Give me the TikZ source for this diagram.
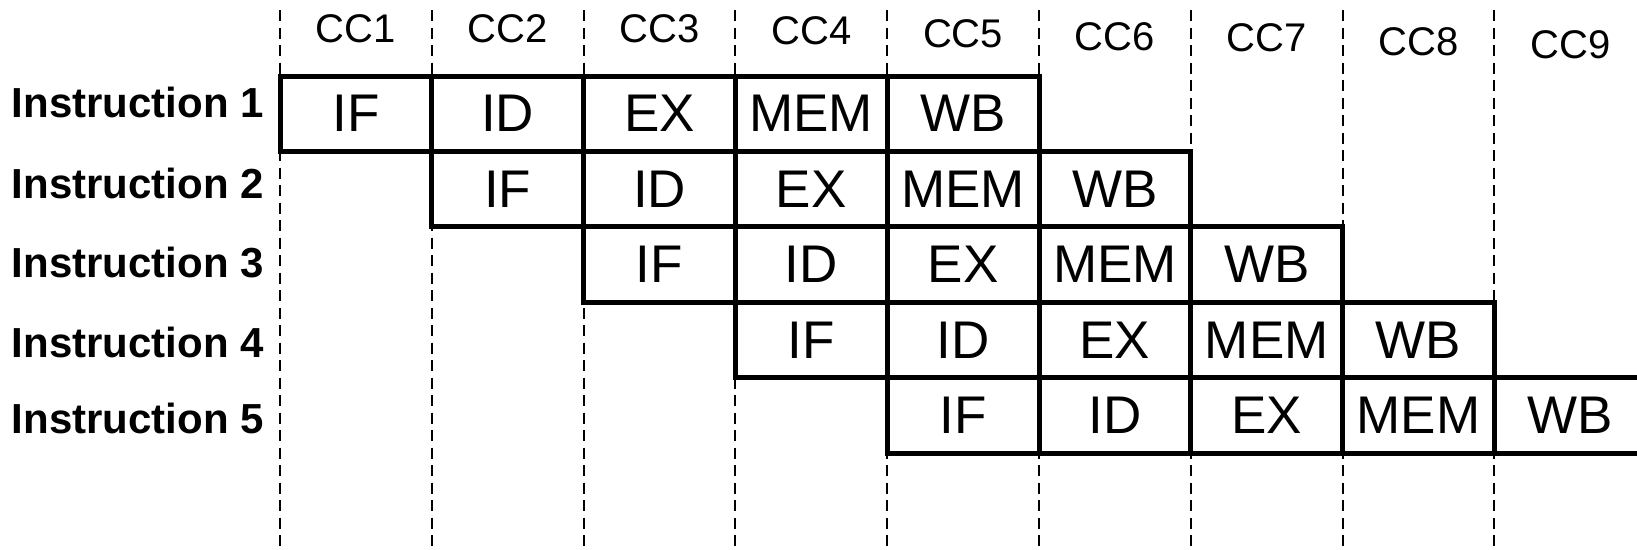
\documentclass[tikz,border=0pt]{standalone}
\usepackage{fontspec}
\setmainfont{Liberation Sans}
\begin{document}
\begin{tikzpicture}[x=1pt,y=-1pt,
  gridline/.style={line width=2pt, dash pattern=on 11pt off 6.5pt},
  stagebox/.style={draw, line width=5pt, minimum width=151.8pt, minimum height=75.4pt,
    inner sep=0pt, font=\fontsize{53}{53}\selectfont},
  cclabel/.style={font=\fontsize{40}{40}\selectfont, inner sep=0pt},
  instlabel/.style={font=\fontsize{42}{42}\selectfont\bfseries, anchor=east, inner sep=0pt}]
\useasboundingbox (0,0) rectangle (1637,549);
% dashed clock-cycle lines
\foreach \i in {0,...,8}{
  \coordinate (gt\i) at ({280+151.8*\i},10);
  \coordinate (gb\i) at ({280+151.8*\i},549);
  \draw[gridline] (gt\i) -- (gb\i);
}
% CC labels
\foreach \i/\yy in {1/29,2/29,3/29,4/31,5/34,6/37,7/38,8/42,9/45}{
  \node[cclabel] (cc\i) at ({280+151.8*(\i-0.5)},\yy) {CC\i};
}
% pipeline stages
\foreach \r in {1,...,5}{
  \foreach \s [count=\k from 0] in {IF,ID,EX,MEM,WB}{
    \node[stagebox] (st\r-\k) at ({280+151.8*(\r-1+\k+0.5)},{76+75.4*(\r-0.5)}) {\s};
  }
}
% instruction labels
\foreach \r/\yy in {1/102,2/183,3/263,4/342,5/418}{
  \node[instlabel] (in\r) at (264,\yy) {Instruction \r};
}
\end{tikzpicture}
\end{document}
